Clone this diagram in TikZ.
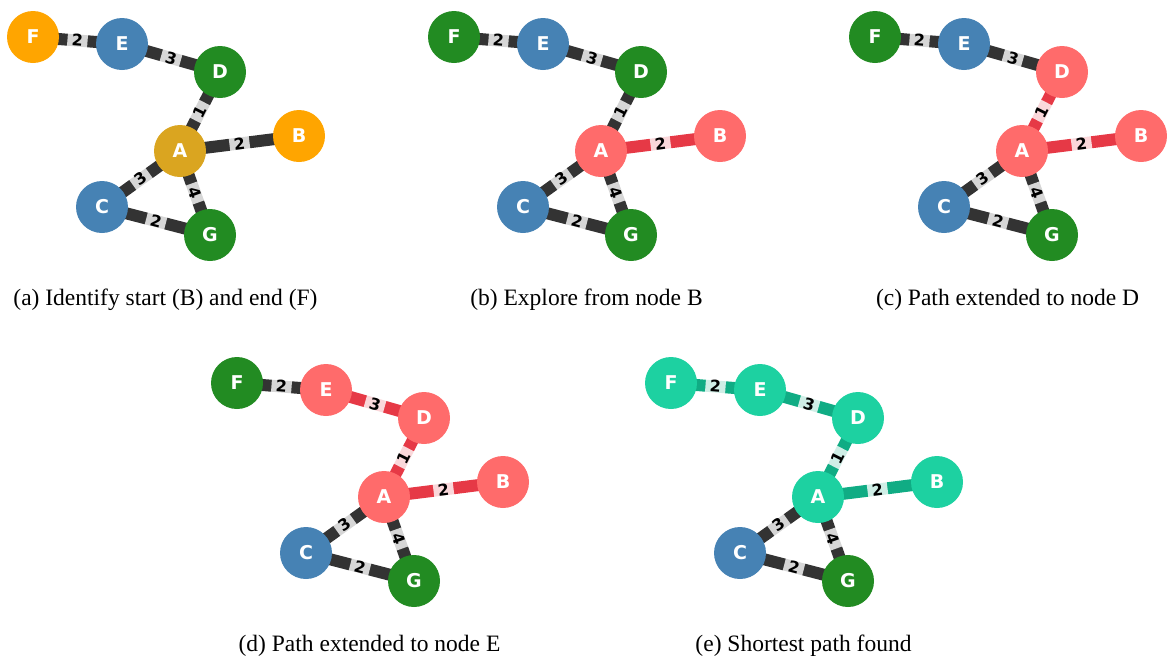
\documentclass[tikz,border=0pt]{standalone}
\usepackage{fontspec}
\setmainfont{Liberation Serif}
\newfontfamily\dvs{DejaVu Sans}
\pgfdeclarelayer{bg}
\pgfsetlayers{bg,main}
\definecolor{cOrange}{HTML}{FFA500}
\definecolor{cGold}{HTML}{DAA520}
\definecolor{cBlue}{HTML}{4682B4}
\definecolor{cGreen}{HTML}{228B22}
\definecolor{cRed}{HTML}{FF6B6B}
\definecolor{cTeal}{HTML}{1DD1A1}
\definecolor{eDark}{HTML}{333333}
\definecolor{eRed}{HTML}{E63946}
\definecolor{eTeal}{HTML}{10AC84}
\tikzset{
  gnode/.style={circle, minimum size=52pt, inner sep=0pt, text=white,
    font=\dvs\bfseries\fontsize{19}{19}\selectfont},
  gedge/.style={line width=12pt},
  elabel/.style={sloped, fill=white, fill opacity=0.8, text opacity=1,
    inner xsep=4.5pt, inner ysep=2pt, text=black,
    font=\dvs\bfseries\fontsize{16}{16}\selectfont},
  capt/.style={anchor=base, font=\fontsize{23.5}{24}\selectfont},
}
\newcommand\mypanel[3]{%
  \begin{scope}[shift={(#2,#3)}]
    \node[gnode, fill=\cF] (#1F) at (33,37) {F};
    \node[gnode, fill=\cE] (#1E) at (122,44) {E};
    \node[gnode, fill=\cD] (#1D) at (220,72) {D};
    \node[gnode, fill=\cA] (#1A) at (180,151) {A};
    \node[gnode, fill=\cB] (#1B) at (299,136) {B};
    \node[gnode, fill=\cC] (#1C) at (102,207) {C};
    \node[gnode, fill=\cG] (#1G) at (210,235) {G};
    \begin{pgfonlayer}{bg}
      \draw[gedge, draw=\eFE] (#1F.center) -- node[elabel]{2} (#1E.center);
      \draw[gedge, draw=\eED] (#1E.center) -- node[elabel]{3} (#1D.center);
      \draw[gedge, draw=\eDA] (#1D.center) -- node[elabel]{1} (#1A.center);
      \draw[gedge, draw=\eAB] (#1A.center) -- node[elabel]{2} (#1B.center);
      \draw[gedge, draw=eDark] (#1C.center) -- node[elabel]{3} (#1A.center);
      \draw[gedge, draw=eDark] (#1A.center) -- node[elabel]{4} (#1G.center);
      \draw[gedge, draw=eDark] (#1C.center) -- node[elabel]{2} (#1G.center);
    \end{pgfonlayer}
  \end{scope}}
\begin{document}
\begin{tikzpicture}[x=1pt, y=-1pt]
\useasboundingbox (0,0) rectangle (1167,662);
% (a)
\def\cF{cOrange}\def\cE{cBlue}\def\cD{cGreen}\def\cA{cGold}\def\cB{cOrange}\def\cC{cBlue}\def\cG{cGreen}
\def\eFE{eDark}\def\eED{eDark}\def\eDA{eDark}\def\eAB{eDark}
\mypanel{a}{0}{0}
\node[capt] (capa) at (165.5,305) {(a) Identify start (B) and end (F)};
% (b)
\def\cF{cGreen}\def\cA{cRed}\def\cB{cRed}
\def\eAB{eRed}
\mypanel{b}{421}{0}
\node[capt] (captb) at (586.5,305) {(b) Explore from node B};
% (c)
\def\cD{cRed}\def\eDA{eRed}
\mypanel{c}{842}{0}
\node[capt] (captc) at (1007.5,305) {(c) Path extended to node D};
% (d)
\def\cE{cRed}\def\eED{eRed}
\mypanel{d}{204}{346}
\node[capt] (captd) at (369.5,651) {(d) Path extended to node E};
% (e)
\def\cF{cTeal}\def\cE{cTeal}\def\cD{cTeal}\def\cA{cTeal}\def\cB{cTeal}
\def\eFE{eTeal}\def\eED{eTeal}\def\eDA{eTeal}\def\eAB{eTeal}
\mypanel{e}{638}{346}
\node[capt] (capte) at (803.5,651) {(e) Shortest path found};
\end{tikzpicture}
\end{document}
